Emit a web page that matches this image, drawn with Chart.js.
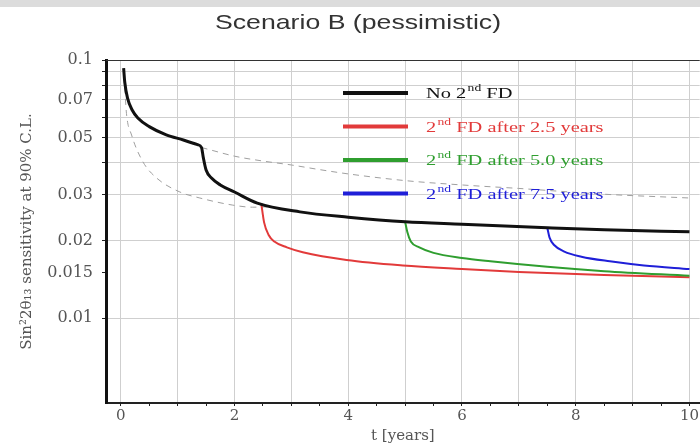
<!DOCTYPE html>
<html>
<head>
<meta charset="utf-8">
<script src="https://cdn.jsdelivr.net/npm/chart.js@4.4.0/dist/chart.umd.min.js"></script>
<style>
  html, body { margin: 0; padding: 0; background: #fff; }
  canvas { display: block; }
</style>
</head>
<body>
<canvas id="chart" width="700" height="445"></canvas>
<script>
// Sensitivity curves (t in years, value = sin^2 2theta13)
const noFdT = [0.05, 0.07, 0.12, 0.2, 0.3, 0.5, 0.8, 1.1, 1.35, 1.42, 1.45, 1.5, 1.6, 1.75, 2.0, 2.4, 3.15, 4.0, 5.0, 6.0, 7.5, 8.5, 10];
const noFdV = [0.093, 0.082, 0.071, 0.064, 0.0596, 0.0552, 0.0513, 0.049, 0.047, 0.0458, 0.042, 0.0375, 0.0348, 0.0328, 0.0308, 0.0279, 0.0258, 0.0246, 0.0236, 0.0231, 0.0224, 0.022, 0.0216];

const fd25T = [2.47, 2.52, 2.6, 2.7, 2.92, 3.2, 3.97, 4.96, 6.0, 7.0, 8.5, 10];
const fd25V = [0.0278, 0.0235, 0.021, 0.0198, 0.0188, 0.018, 0.0168, 0.016, 0.0155, 0.0151, 0.0147, 0.0144];

const fd50T = [5.0, 5.04, 5.1, 5.25, 5.5, 6.0, 6.5, 7.5, 8.5, 10];
const fd50V = [0.0236, 0.0215, 0.0198, 0.0188, 0.0179, 0.0171, 0.0166, 0.0158, 0.0152, 0.0146];

const fd75T = [7.5, 7.54, 7.62, 7.8, 8.1, 8.6, 9.2, 10];
const fd75V = [0.0224, 0.0205, 0.0192, 0.0181, 0.0173, 0.0166, 0.016, 0.0155];

// the two thin dashed grey reference curves
const upperDashT = [1.42, 1.6, 2.0, 2.5, 3.0, 3.5, 4.0, 5.0, 6.0, 7.0, 8.5, 10];
const upperDashV = [0.0458, 0.0447, 0.0424, 0.0406, 0.0392, 0.0376, 0.0362, 0.0341, 0.0328, 0.0318, 0.0302, 0.0292];
const lowerDashT = [0.07, 0.1, 0.19, 0.39, 0.63, 1.04, 1.39, 1.97, 2.32, 2.6];
const lowerDashV = [0.078, 0.062, 0.0512, 0.0403, 0.0349, 0.0308, 0.0292, 0.0274, 0.0269, 0.027];

// axis ticks
const xTicks = [0, 0.5, 1, 1.5, 2, 2.5, 3, 3.5, 4, 4.5, 5, 5.5, 6, 6.5, 7, 7.5, 8, 8.5, 9, 9.5, 10];
const xLabels = [0, 2, 4, 6, 8, 10];
const yTicks = [0.01, 0.015, 0.02, 0.03, 0.04, 0.05, 0.06, 0.07, 0.08, 0.09, 0.1];
const yLabels = [0.01, 0.015, 0.02, 0.03, 0.05, 0.07, 0.1];

// legend entries (superscript part kept separate)
const legendItems = [
    { pre: 'No 2', sup: 'nd', post: ' FD', color: '#111111' },
    { pre: '2', sup: 'nd', post: ' FD after 2.5 years', color: '#e23a3a' },
    { pre: '2', sup: 'nd', post: ' FD after 5.0 years', color: '#2f9e2f' },
    { pre: '2', sup: 'nd', post: ' FD after 7.5 years', color: '#1f1fd8' }
];

function toPoints(ts, vs) {
    return ts.map((t, i) => ({ x: t, y: vs[i] }));
}

const serif = '"Liberation Serif", "DejaVu Serif", serif';
const wideSerif = '"DejaVu Serif", serif';

// background, grey band and title (the original picture is a bit stretched sideways)
const decorPlugin = {
    id: 'decor',
    beforeDraw(chart) {
        const ctx = chart.ctx;
        ctx.save();
        ctx.fillStyle = '#ffffff';
        ctx.fillRect(0, 0, chart.width, chart.height);
        ctx.fillStyle = '#dcdcdc';
        ctx.fillRect(0, 0, chart.width, 7);
        ctx.fillStyle = '#333333';
        ctx.font = '21px "Liberation Sans", Arial, sans-serif';
        ctx.textAlign = 'center';
        ctx.textBaseline = 'middle';
        ctx.translate(358, 23);
        ctx.scale(1.27, 1);
        ctx.fillText('Scenario B (pessimistic)', 0, 0);
        ctx.restore();
    },
    afterDraw(chart) {
        // top edge of the frame
        const a = chart.chartArea;
        const ctx = chart.ctx;
        ctx.save();
        ctx.strokeStyle = '#333333';
        ctx.lineWidth = 1;
        ctx.beginPath();
        ctx.moveTo(a.left, a.top + 0.5);
        ctx.lineTo(a.right, a.top + 0.5);
        ctx.stroke();
        ctx.restore();
    }
};

// legend with superscripts
const legendPlugin = {
    id: 'fdLegend',
    afterDatasetsDraw(chart) {
        const a = chart.chartArea;
        const ctx = chart.ctx;
        const x0 = a.left + 237;
        const y0 = a.top + 33;
        const gap = 33.5;
        const stretch = 1.36;
        ctx.save();
        legendItems.forEach((item, i) => {
            const y = y0 + i * gap;
            ctx.strokeStyle = item.color;
            ctx.lineWidth = 4;
            ctx.beginPath();
            ctx.moveTo(x0, y);
            ctx.lineTo(x0 + 65, y);
            ctx.stroke();

            ctx.save();
            ctx.translate(x0 + 83, y + 5);
            ctx.scale(stretch, 1);
            ctx.fillStyle = item.color;
            ctx.textBaseline = 'alphabetic';
            let x = 0;
            ctx.font = '15px ' + serif;
            ctx.fillText(item.pre, x, 0);
            x += ctx.measureText(item.pre).width + 1;
            ctx.font = '10px ' + serif;
            ctx.fillText(item.sup, x, -7);
            x += ctx.measureText(item.sup).width;
            ctx.font = '15px ' + serif;
            ctx.fillText(item.post, x, 0);
            ctx.restore();
        });
        ctx.restore();
    }
};

const dashStyle = {
    borderColor: '#a0a0a0',
    borderWidth: 1,
    borderDash: [6, 5],
    pointRadius: 0,
    fill: false,
    cubicInterpolationMode: 'monotone'
};

new Chart(document.getElementById('chart'), {
    type: 'line',
    data: {
        datasets: [
            Object.assign({ label: 'upper dashed', data: toPoints(upperDashT, upperDashV), order: 5 }, dashStyle),
            Object.assign({ label: 'lower dashed', data: toPoints(lowerDashT, lowerDashV), order: 5 }, dashStyle),
            { label: '2nd FD after 2.5 years', data: toPoints(fd25T, fd25V), borderColor: '#e23a3a', borderWidth: 2, pointRadius: 0, cubicInterpolationMode: 'monotone', order: 3 },
            { label: '2nd FD after 5.0 years', data: toPoints(fd50T, fd50V), borderColor: '#2f9e2f', borderWidth: 2, pointRadius: 0, cubicInterpolationMode: 'monotone', order: 2 },
            { label: '2nd FD after 7.5 years', data: toPoints(fd75T, fd75V), borderColor: '#1f1fd8', borderWidth: 2, pointRadius: 0, cubicInterpolationMode: 'monotone', order: 1 },
            { label: 'No 2nd FD', data: toPoints(noFdT, noFdV), borderColor: '#111111', borderWidth: 3, pointRadius: 0, cubicInterpolationMode: 'monotone', order: 0 }
        ]
    },
    options: {
        responsive: false,
        animation: false,
        devicePixelRatio: 1,
        layout: { padding: { left: 18, top: 60, right: 0, bottom: 0 } },
        plugins: {
            legend: { display: false },
            tooltip: { enabled: false }
        },
        scales: {
            x: {
                type: 'linear',
                min: -0.26,
                max: 10.18,
                afterBuildTicks: scale => { scale.ticks = xTicks.map(v => ({ value: v })); },
                afterFit: scale => { scale.height = 42; },
                ticks: {
                    autoSkip: false,
                    maxRotation: 0,
                    padding: 1,
                    color: '#555',
                    font: { family: wideSerif, size: 15 },
                    callback: v => (xLabels.includes(v) ? String(v) : '')
                },
                grid: {
                    color: c => (Number.isInteger(c.tick.value) ? '#cfcfcf' : 'rgba(0,0,0,0)'),
                    tickColor: '#222',
                    tickLength: 3
                },
                border: { color: '#222', width: 2 },
                title: {
                    display: true,
                    text: 't [years]',
                    color: '#555',
                    font: { family: wideSerif, size: 15 },
                    padding: { top: 0, bottom: 0 }
                }
            },
            y: {
                type: 'logarithmic',
                min: 0.00469,
                max: 0.1,
                afterBuildTicks: scale => { scale.ticks = yTicks.map(v => ({ value: v })); },
                afterFit: scale => { scale.width = 88; },
                ticks: {
                    autoSkip: false,
                    padding: 9,
                    color: '#555',
                    font: { family: wideSerif, size: 16 },
                    callback: v => (yLabels.includes(v) ? String(v) : '')
                },
                grid: {
                    color: c => (c.tick && c.tick.value === 0.015 ? 'rgba(0,0,0,0)' : '#cfcfcf'),
                    tickColor: '#222',
                    tickLength: 4
                },
                border: { color: '#111', width: 3 },
                title: {
                    display: true,
                    text: 'Sin\u00b22\u03b8\u2081\u2083 sensitivity at 90% C.L.',
                    color: '#555',
                    font: { family: wideSerif, size: 15 },
                    padding: { top: 0, bottom: 0 }
                }
            }
        }
    },
    plugins: [decorPlugin, legendPlugin]
});
</script>
</body>
</html>
